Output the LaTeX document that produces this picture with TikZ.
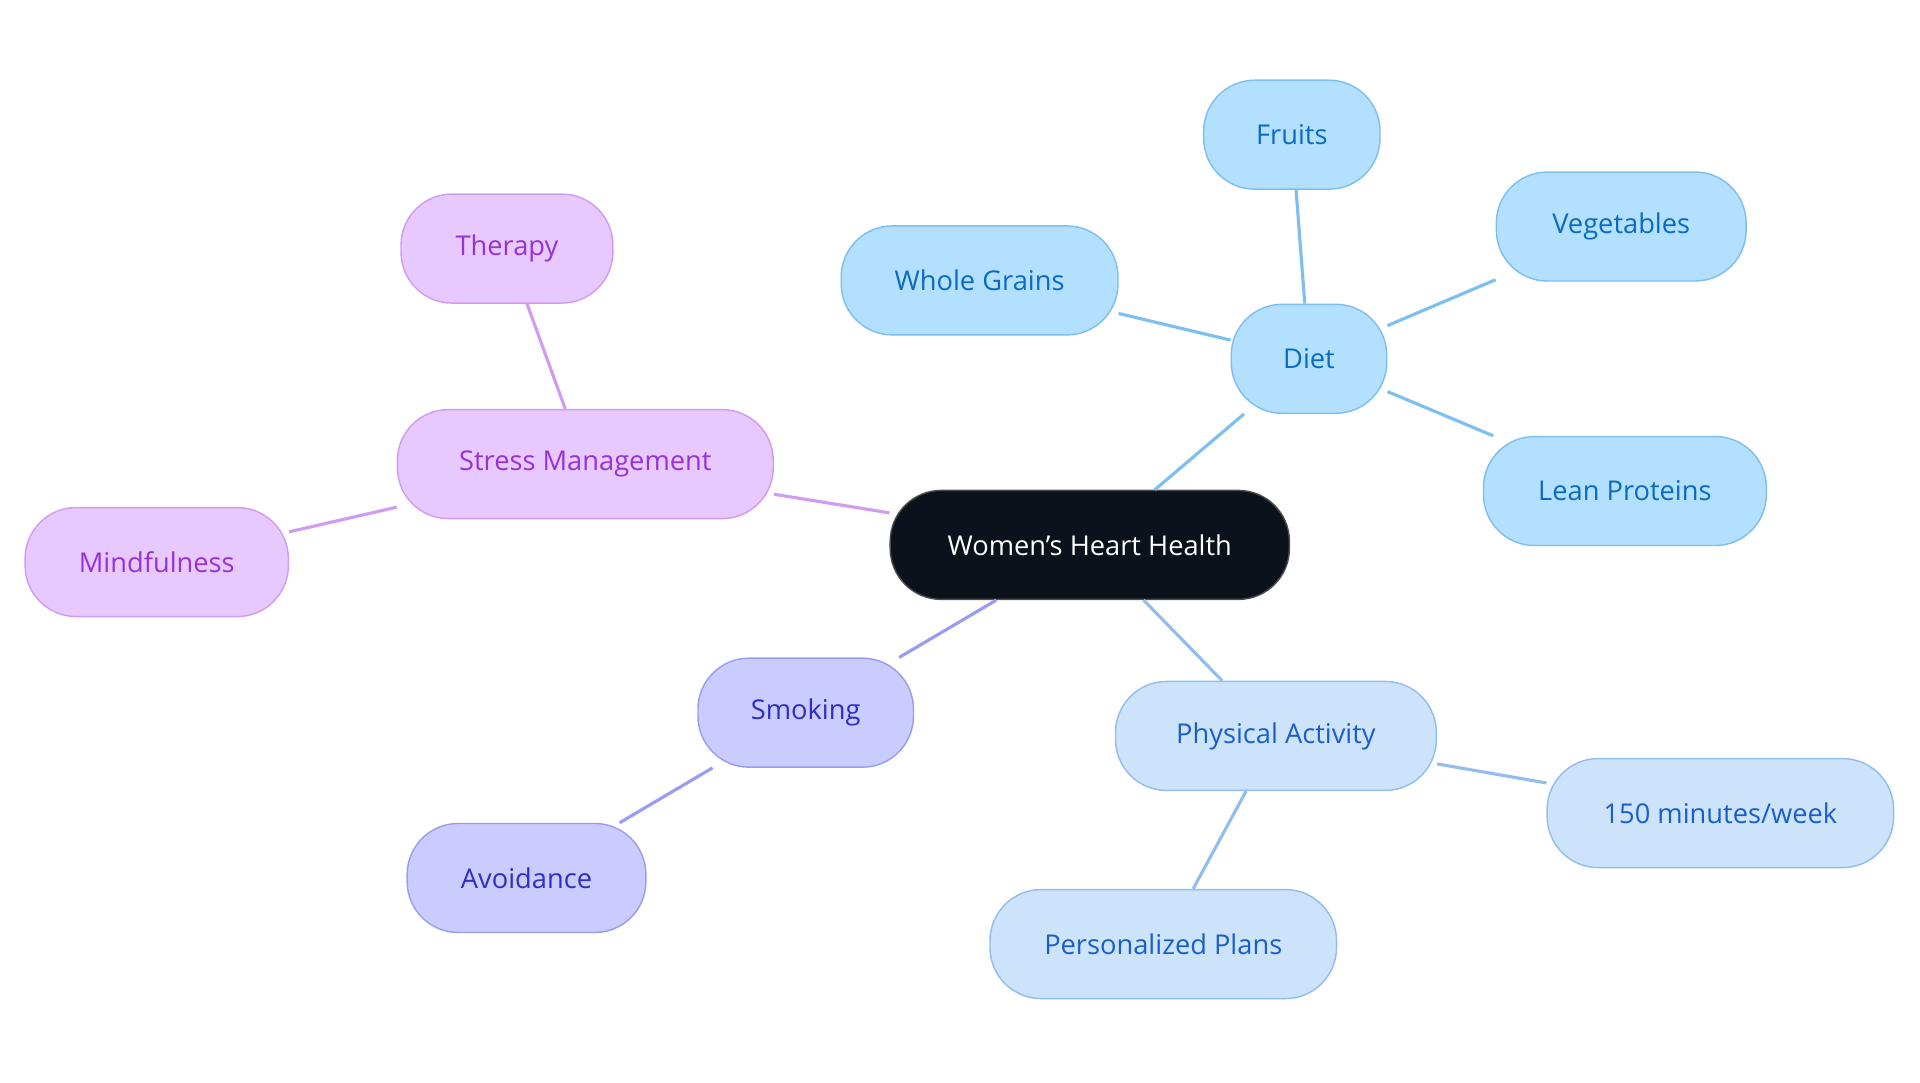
\documentclass[tikz,border=0pt]{standalone}
\usepackage{fontspec}
\setmainfont{Open Sans}
\definecolor{dF}{HTML}{B3E0FF}\definecolor{dB}{HTML}{7DBFEF}\definecolor{dT}{HTML}{0B6BC2}
\definecolor{pF}{HTML}{CCE3FB}\definecolor{pB}{HTML}{92BDEE}\definecolor{pT}{HTML}{1A5FC8}
\definecolor{sF}{HTML}{CACBFF}\definecolor{sB}{HTML}{9A9CF0}\definecolor{sT}{HTML}{2E2EC0}
\definecolor{mF}{HTML}{E8C9FF}\definecolor{mB}{HTML}{CF9CF2}\definecolor{mT}{HTML}{9533D6}
\definecolor{cF}{HTML}{0B121B}
\tikzset{
 pill/.style={rectangle,rounded corners=1.25cm,minimum height=2.67cm,inner sep=0pt,line width=1pt,font=\fontsize{19}{22}\selectfont},
 dn/.style={pill,fill=dF,draw=dB,text=dT},
 pn/.style={pill,fill=pF,draw=pB,text=pT},
 sn/.style={pill,fill=sF,draw=sB,text=sT},
 mn/.style={pill,fill=mF,draw=mB,text=mT},
 de/.style={draw=dB,line width=2.2pt},
 pe/.style={draw=pB,line width=2.2pt},
 se/.style={draw=sB,line width=2.2pt},
 me/.style={draw=mB,line width=2.2pt},
}
\begin{document}
\begin{tikzpicture}[x=0.03cm,y=-0.03cm]
\useasboundingbox (0,0) rectangle (1568,884);
\node[pill,fill=cF,draw=gray!60!black,text=white,minimum width=326*0.03cm] (c) at (890,445) {Women's Heart Health};
\node[dn,minimum width=127*0.03cm] (diet) at (1069,293) {Diet};
\node[dn,minimum width=144*0.03cm] (fr) at (1055,110) {Fruits};
\node[dn,minimum width=204*0.03cm] (veg) at (1324,185) {Vegetables};
\node[dn,minimum width=226*0.03cm] (wg) at (800,229) {Whole Grains};
\node[dn,minimum width=231*0.03cm] (lp) at (1327,401) {Lean Proteins};
\node[pn,minimum width=262*0.03cm] (pa) at (1042,601) {Physical Activity};
\node[pn,minimum width=283*0.03cm] (mw) at (1405,664) {150 minutes/week};
\node[pn,minimum width=283*0.03cm] (pp) at (950,771) {Personalized Plans};
\node[sn,minimum width=176*0.03cm] (sm) at (658,582) {Smoking};
\node[sn,minimum width=195*0.03cm] (av) at (430,717) {Avoidance};
\node[mn,minimum width=307*0.03cm] (st) at (478,379) {Stress Management};
\node[mn,minimum width=173*0.03cm] (th) at (414,203) {Therapy};
\node[mn,minimum width=215*0.03cm] (mi) at (128,459) {Mindfulness};
\begin{scope}[on background layer/.style={}]
\end{scope}
\begin{pgfonlayer}{main}\end{pgfonlayer}
\path[de] (c) -- (diet);
\path[de] (diet) -- (fr);
\path[de] (diet) -- (veg);
\path[de] (diet) -- (wg);
\path[de] (diet) -- (lp);
\path[pe] (c) -- (pa);
\path[pe] (pa) -- (mw);
\path[pe] (pa) -- (pp);
\path[se] (c) -- (sm);
\path[se] (sm) -- (av);
\path[me] (c) -- (st);
\path[me] (st) -- (th);
\path[me] (st) -- (mi);
\end{tikzpicture}
\end{document}
